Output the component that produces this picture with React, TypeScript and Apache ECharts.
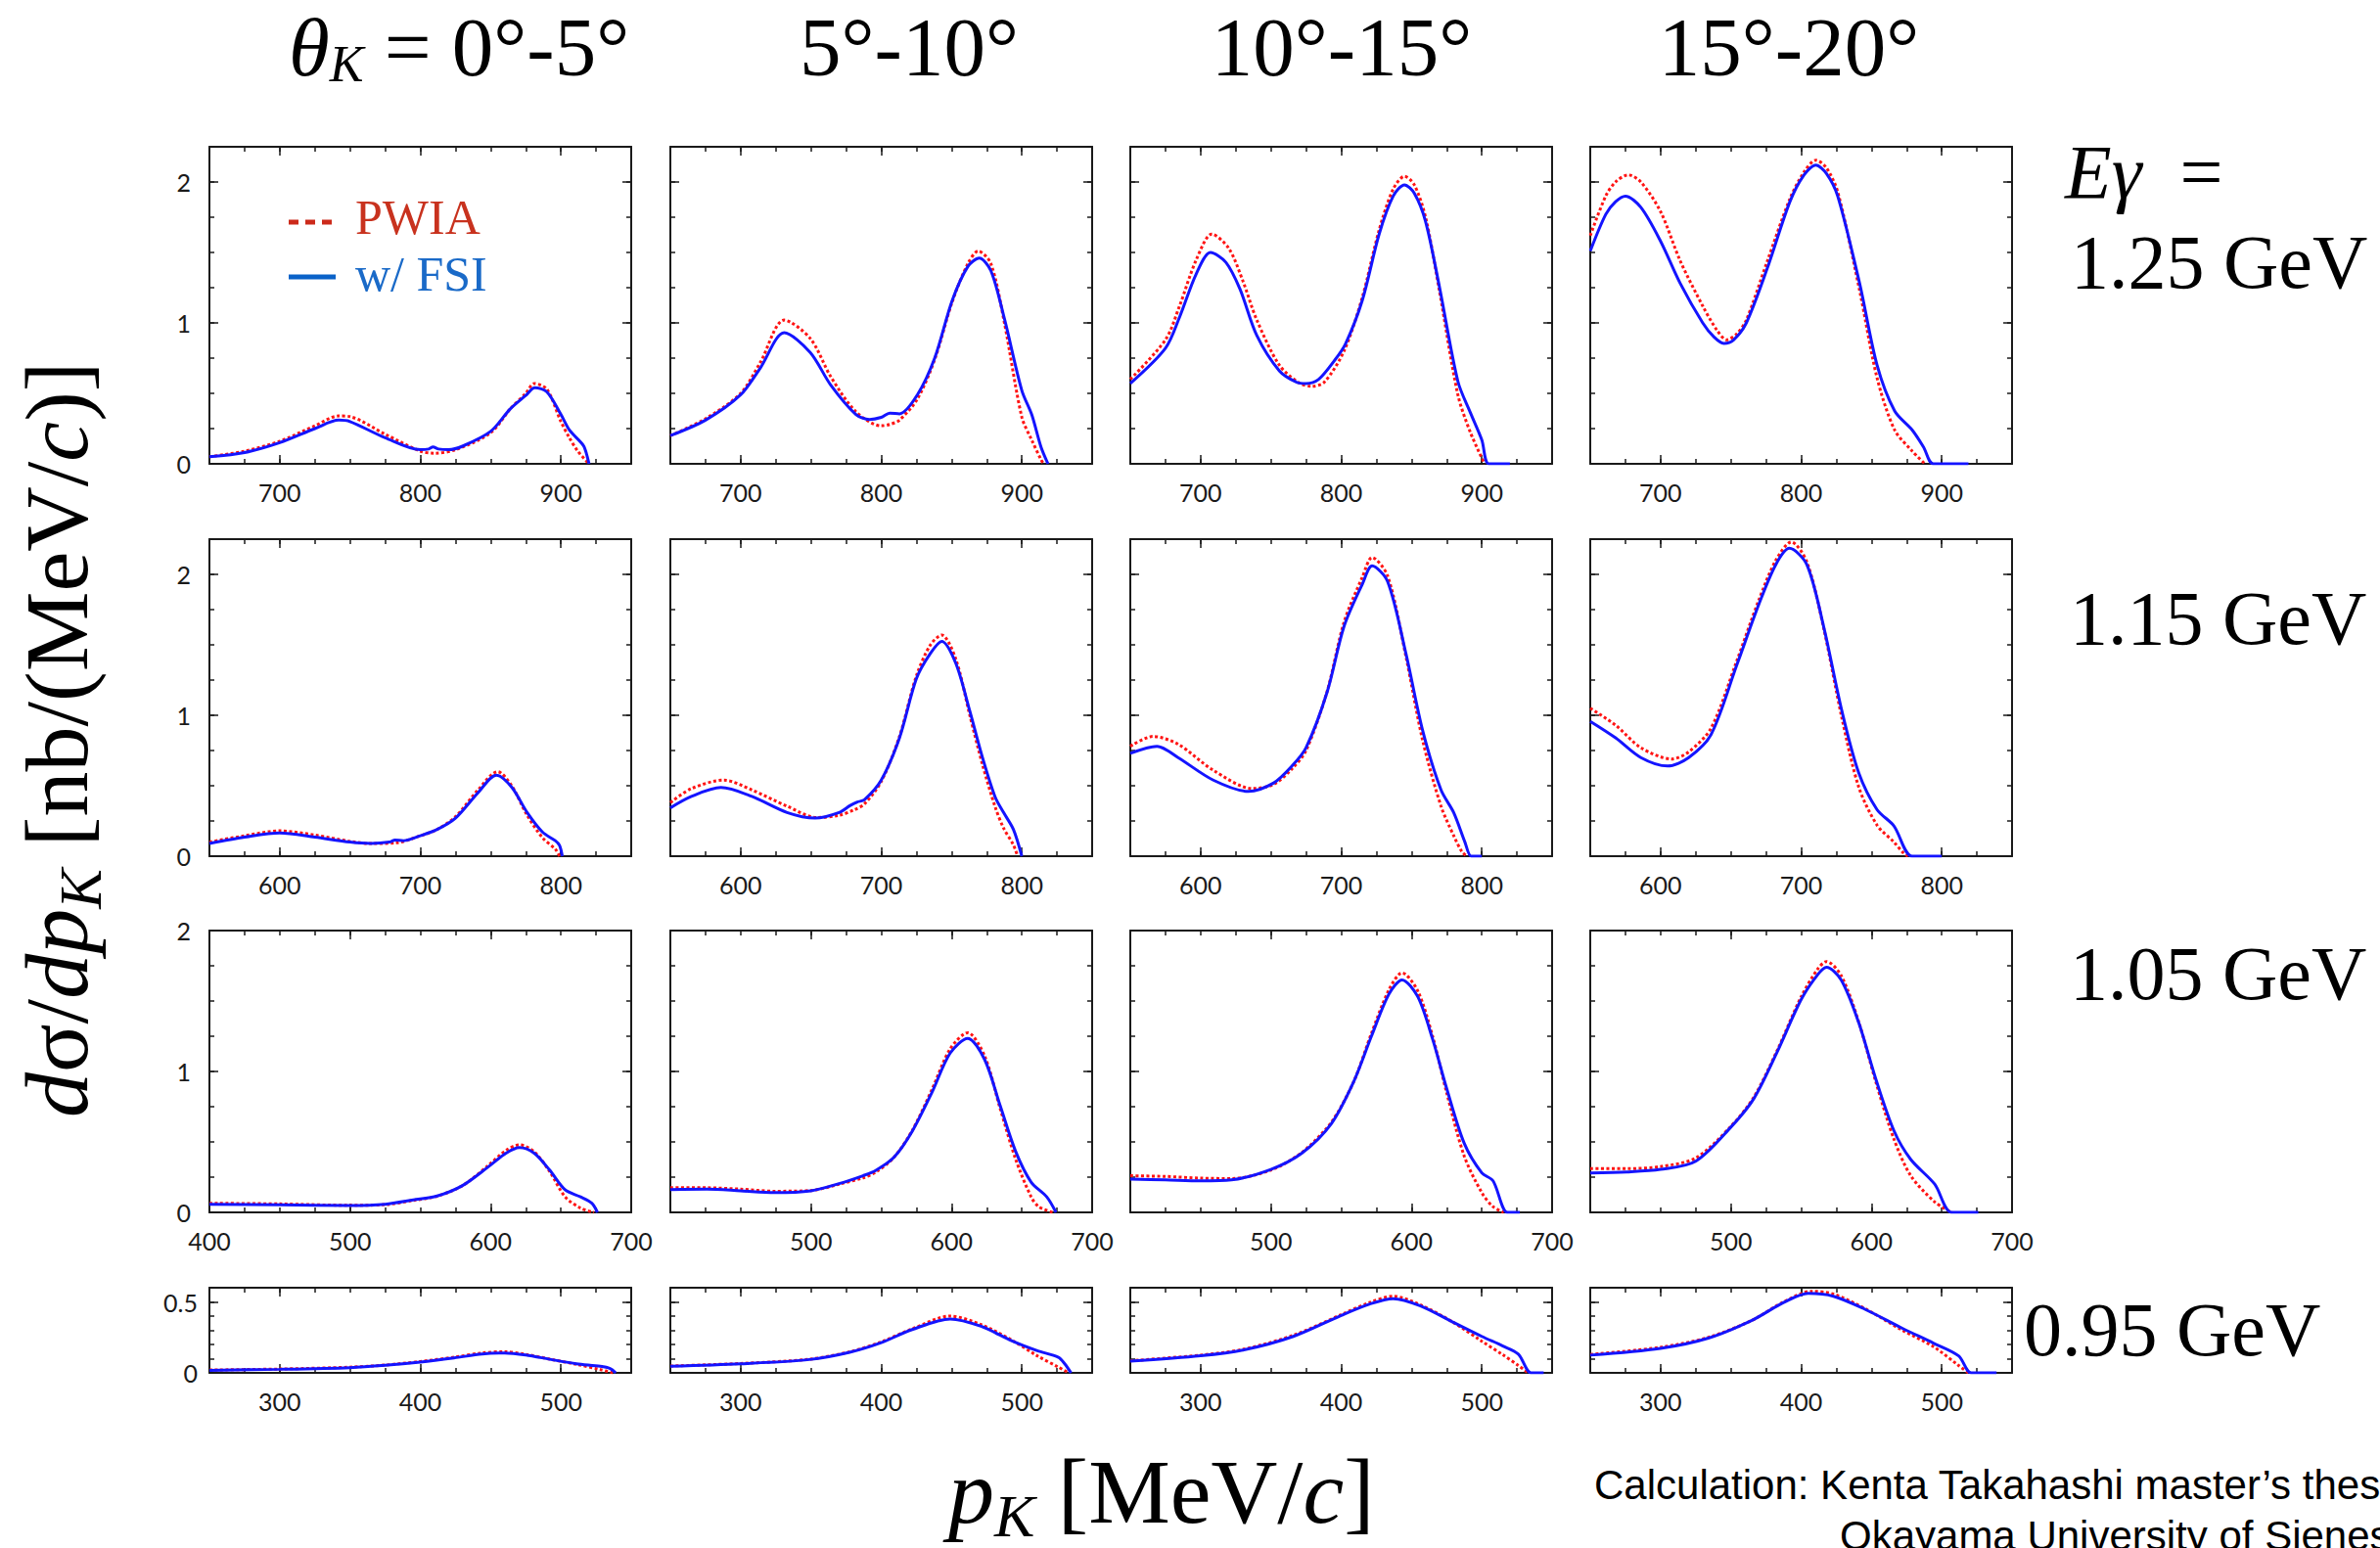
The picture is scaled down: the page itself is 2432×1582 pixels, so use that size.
import React, { useEffect, useRef } from 'react';
import * as echarts from 'echarts';

type Pt = [number, number];

// ---- labels -------------------------------------------------------------
const thetaBins = ['0°-5°', '5°-10°', '10°-15°', '15°-20°'];
const photonEnergies = ['1.25 GeV', '1.15 GeV', '1.05 GeV', '0.95 GeV'];

// ---- axes per photon energy row ---------------------------------------
const pRange: Pt[] = [[650, 950], [550, 850], [400, 700], [250, 550]];
const sigmaMax = [2.25, 2.25, 2, 0.6];
const pMinorStep = 25;
const sigmaMinorStep = [0.25, 0.25, 0.25, 0.1];
const pMajorTicks = [[700, 800, 900], [600, 700, 800], [500, 600], [300, 400, 500]];
const sigmaMajorTicks = [[1, 2], [1, 2], [1], [0.5]];
const pTickLabels = [[700, 800, 900], [600, 700, 800], [500, 600, 700], [300, 400, 500]];
const pTickLabelsFirstCol = [[700, 800, 900], [600, 700, 800], [400, 500, 600, 700], [300, 400, 500]];
const sigmaTickLabels = [[0, 1, 2], [0, 1, 2], [0, 1, 2], [0, 0.5]];

// ---- dσ/dp_K curves: [p_K (MeV/c), nb/(MeV/c)] ---------------------------
// Eγ = 1.25 GeV
const pwia_e125_t0: Pt[] = [[650, 0.05], [675, 0.09], [700, 0.16], [725, 0.27], [742, 0.34], [750, 0.335], [775, 0.21], [800, 0.09], [810, 0.075], [825, 0.10], [850, 0.22], [864, 0.39], [875, 0.50], [881, 0.57], [890, 0.53], [900, 0.30], [906, 0.185], [912, 0.09], [920, 0]];
const fsi_e125_t0: Pt[] = [[650, 0.05], [675, 0.08], [700, 0.15], [725, 0.25], [742, 0.31], [750, 0.30], [775, 0.185], [800, 0.10], [806, 0.105], [809, 0.12], [813, 0.105], [820, 0.10], [830, 0.125], [850, 0.23], [864, 0.39], [875, 0.485], [881.5, 0.54], [890, 0.51], [900, 0.35], [906, 0.24], [916, 0.13], [918.5, 0.06], [920, 0]];
const pwia_e125_t5: Pt[] = [[650, 0.20], [675, 0.32], [700, 0.50], [714, 0.72], [731, 1.02], [749.5, 0.89], [764, 0.62], [782, 0.37], [800, 0.27], [806, 0.28], [813, 0.31], [825.7, 0.46], [838, 0.74], [850.5, 1.15], [861.6, 1.42], [869, 1.51], [878, 1.42], [887.6, 1.0], [900, 0.33], [907, 0.17], [913.6, 0.03], [915.5, 0]];
const fsi_e125_t5: Pt[] = [[650, 0.20], [675, 0.31], [700, 0.49], [714, 0.68], [731, 0.93], [749.5, 0.79], [764, 0.56], [782, 0.35], [791.6, 0.315], [800, 0.33], [806, 0.36], [813, 0.355], [825.7, 0.49], [838, 0.75], [850.5, 1.16], [861.6, 1.40], [869.7, 1.46], [878, 1.37], [887.6, 1.03], [900, 0.52], [907, 0.35], [913.6, 0.12], [918.6, 0]];
const pwia_e125_t10: Pt[] = [[650, 0.60], [675, 0.88], [685, 1.12], [697, 1.45], [708, 1.63], [720, 1.53], [730, 1.30], [740, 1.02], [756, 0.70], [770, 0.575], [779, 0.55], [788, 0.58], [802, 0.80], [815, 1.18], [827, 1.66], [837, 1.95], [845, 2.04], [852, 1.98], [860, 1.75], [870, 1.22], [883, 0.49], [892, 0.22], [902, 0]];
const fsi_e125_t10: Pt[] = [[650, 0.57], [675, 0.82], [685, 1.04], [697, 1.35], [707, 1.50], [718, 1.43], [728, 1.24], [740, 0.91], [756, 0.66], [768, 0.58], [775, 0.57], [784, 0.60], [795, 0.73], [803, 0.85], [815, 1.16], [827, 1.63], [837, 1.90], [845, 1.98], [852, 1.92], [860, 1.72], [870, 1.25], [883, 0.585], [892, 0.36], [900, 0.17], [905, 0], [920, 0]];
const pwia_e125_t15: Pt[] = [[650, 1.62], [661, 1.90], [668, 2.00], [677, 2.05], [686, 2.0], [700, 1.79], [714, 1.44], [730, 1.12], [740, 0.95], [747, 0.88], [754, 0.92], [761, 1.02], [776, 1.44], [792, 1.88], [802, 2.07], [810.5, 2.155], [818, 2.10], [826, 1.93], [841.6, 1.23], [854, 0.61], [866.5, 0.24], [879, 0.09], [888, 0]];
const fsi_e125_t15: Pt[] = [[650, 1.51], [661, 1.77], [668, 1.86], [675, 1.90], [686, 1.82], [700, 1.58], [714, 1.28], [730, 1.0], [738, 0.90], [745, 0.855], [752, 0.88], [761, 1.0], [776, 1.39], [792, 1.86], [802, 2.05], [810.5, 2.12], [818, 2.06], [826, 1.90], [841.6, 1.28], [854, 0.70], [866.5, 0.375], [879, 0.24], [887, 0.12], [894, 0], [919, 0]];

// Eγ = 1.15 GeV
const pwia_e115_t0: Pt[] = [[550, 0.10], [575, 0.145], [600, 0.18], [625, 0.15], [650, 0.105], [665, 0.09], [683, 0.095], [700, 0.145], [712, 0.19], [725, 0.28], [741, 0.47], [755, 0.60], [765, 0.50], [776, 0.29], [787, 0.13], [796, 0.05], [799, 0]];
const fsi_e115_t0: Pt[] = [[550, 0.09], [575, 0.135], [600, 0.165], [625, 0.135], [650, 0.10], [665, 0.09], [678, 0.10], [682, 0.115], [688, 0.11], [700, 0.145], [712, 0.19], [725, 0.27], [741, 0.45], [754, 0.575], [765, 0.49], [776, 0.31], [787, 0.17], [796, 0.11], [799, 0.077], [801, 0]];
const pwia_e115_t5: Pt[] = [[550, 0.38], [565, 0.48], [588, 0.54], [608, 0.47], [633, 0.355], [654, 0.275], [670, 0.29], [681, 0.33], [688, 0.37], [700, 0.53], [713, 0.85], [725, 1.28], [735, 1.50], [743, 1.57], [753, 1.40], [763, 1.0], [772, 0.65], [781, 0.35], [787, 0.20], [794, 0.08], [797, 0]];
const fsi_e115_t5: Pt[] = [[550, 0.343], [565, 0.424], [586, 0.487], [608, 0.424], [633, 0.31], [653, 0.27], [670, 0.31], [678, 0.36], [683, 0.385], [688, 0.40], [700, 0.54], [713, 0.84], [725, 1.26], [735, 1.44], [743, 1.525], [753, 1.37], [763, 1.03], [772, 0.70], [781, 0.42], [787, 0.31], [794, 0.19], [800, 0]];
const pwia_e115_t10: Pt[] = [[550, 0.78], [566, 0.85], [584, 0.795], [609, 0.61], [637, 0.48], [652, 0.51], [665, 0.62], [675, 0.75], [690, 1.17], [702, 1.66], [715, 1.98], [722, 2.12], [733, 1.99], [746, 1.42], [758, 0.82], [771, 0.355], [780, 0.146], [786, 0.03], [789.6, 0]];
const fsi_e115_t10: Pt[] = [[550, 0.73], [569, 0.78], [584, 0.70], [609, 0.54], [634, 0.46], [652, 0.52], [665, 0.64], [675, 0.77], [690, 1.165], [702, 1.63], [715, 1.93], [722, 2.06], [733, 1.95], [746, 1.44], [758, 0.89], [771, 0.47], [780, 0.31], [788, 0.10], [792.5, 0], [800, 0]];
const pwia_e115_t15: Pt[] = [[550, 1.05], [568, 0.93], [586, 0.77], [608, 0.69], [620, 0.74], [636, 0.91], [654, 1.38], [670, 1.82], [682, 2.10], [693, 2.23], [704, 2.09], [716, 1.62], [729, 0.98], [741, 0.49], [754, 0.22], [766, 0.10], [773, 0.02], [776, 0]];
const fsi_e115_t15: Pt[] = [[550, 0.957], [568, 0.84], [586, 0.70], [605, 0.64], [620, 0.70], [636, 0.865], [654, 1.35], [670, 1.79], [682, 2.07], [691.6, 2.185], [704, 2.07], [716, 1.63], [729, 1.03], [741, 0.59], [754, 0.33], [766, 0.215], [779, 0], [800, 0]];

// Eγ = 1.05 GeV
const pwia_e105_t0: Pt[] = [[400, 0.065], [450, 0.06], [500, 0.05], [525, 0.055], [545, 0.085], [562, 0.115], [580, 0.19], [598, 0.33], [611, 0.44], [620.5, 0.48], [631, 0.43], [642, 0.29], [653, 0.11], [664, 0.03], [673.5, 0]];
const fsi_e105_t0: Pt[] = [[400, 0.058], [450, 0.053], [500, 0.049], [525, 0.058], [545, 0.088], [562, 0.116], [580, 0.19], [598, 0.32], [611, 0.42], [620.5, 0.46], [631, 0.42], [642, 0.30], [653, 0.16], [664, 0.11], [672, 0.065], [676, 0]];
const pwia_e105_t5: Pt[] = [[400, 0.176], [426, 0.175], [450, 0.165], [474, 0.15], [500, 0.155], [520, 0.20], [537, 0.245], [546, 0.285], [559, 0.39], [572, 0.58], [586, 0.87], [599, 1.16], [611.5, 1.275], [623.5, 1.11], [634.5, 0.74], [645.5, 0.38], [656.6, 0.11], [662, 0.04], [672, 0]];
const fsi_e105_t5: Pt[] = [[400, 0.162], [426, 0.165], [450, 0.153], [474, 0.14], [500, 0.153], [520, 0.204], [537, 0.26], [546, 0.297], [559, 0.39], [572, 0.575], [586, 0.85], [599, 1.13], [611.5, 1.235], [623.5, 1.085], [634.5, 0.76], [645.5, 0.435], [656.6, 0.215], [667.7, 0.11], [674.3, 0]];
const pwia_e105_t10: Pt[] = [[400, 0.26], [425, 0.255], [450, 0.243], [472, 0.24], [500, 0.30], [522, 0.425], [543, 0.64], [559, 0.93], [571.5, 1.27], [584, 1.58], [593.3, 1.70], [604.5, 1.57], [615, 1.25], [625, 0.85], [637.5, 0.40], [650, 0.14], [658, 0.04], [665.6, 0]];
const fsi_e105_t10: Pt[] = [[400, 0.236], [425, 0.231], [450, 0.224], [472, 0.231], [500, 0.305], [522, 0.42], [543, 0.63], [559, 0.93], [571.5, 1.25], [584, 1.55], [593.3, 1.65], [604.5, 1.53], [615, 1.23], [625, 0.88], [637.5, 0.49], [650, 0.28], [658, 0.224], [668.3, 0], [677, 0]];
const pwia_e105_t15: Pt[] = [[400, 0.31], [426, 0.31], [450, 0.325], [475, 0.386], [500, 0.61], [516.5, 0.82], [533, 1.15], [550, 1.53], [562, 1.73], [568, 1.78], [578.5, 1.68], [591, 1.35], [603, 0.93], [616, 0.52], [628, 0.26], [645, 0.074], [657, 0]];
const fsi_e105_t15: Pt[] = [[400, 0.28], [426, 0.287], [450, 0.305], [475, 0.363], [500, 0.605], [516.5, 0.81], [533, 1.14], [550, 1.51], [562, 1.69], [568, 1.74], [578.5, 1.65], [591, 1.345], [603, 0.95], [616, 0.58], [628, 0.375], [645, 0.20], [657, 0], [676, 0]];

// Eγ = 0.95 GeV
const pwia_e095_t0: Pt[] = [[250, 0.02], [300, 0.027], [350, 0.04], [375, 0.055], [400, 0.08], [424, 0.11], [444, 0.14], [460, 0.149], [475, 0.13], [493, 0.095], [511, 0.06], [528, 0.023], [537, 0]];
const fsi_e095_t0: Pt[] = [[250, 0.018], [300, 0.025], [350, 0.037], [375, 0.053], [400, 0.076], [424, 0.105], [444, 0.133], [460, 0.14], [475, 0.126], [493, 0.094], [511, 0.064], [528, 0.046], [535, 0.03], [539, 0]];
const pwia_e095_t5: Pt[] = [[250, 0.048], [300, 0.066], [349, 0.096], [377.5, 0.148], [400, 0.218], [422, 0.31], [449, 0.40], [471, 0.34], [493, 0.23], [511, 0.12], [526, 0.04], [533.5, 0]];
const fsi_e095_t5: Pt[] = [[250, 0.046], [300, 0.064], [349, 0.094], [377.5, 0.145], [400, 0.213], [422, 0.305], [449, 0.38], [471, 0.328], [493, 0.225], [511, 0.156], [526, 0.11], [530.5, 0.064], [535, 0]];
const pwia_e095_t10: Pt[] = [[250, 0.085], [300, 0.125], [330, 0.165], [366, 0.265], [400, 0.41], [420, 0.495], [437, 0.54], [456, 0.48], [479, 0.36], [500, 0.223], [515, 0.127], [526, 0.052], [533, 0]];
const fsi_e095_t10: Pt[] = [[250, 0.082], [300, 0.12], [330, 0.16], [366, 0.257], [400, 0.405], [420, 0.484], [437, 0.523], [456, 0.473], [479, 0.36], [500, 0.257], [515, 0.189], [526, 0.132], [535, 0], [544, 0]];
const pwia_e095_t15: Pt[] = [[250, 0.13], [300, 0.18], [334, 0.25], [365, 0.37], [387.5, 0.50], [407.5, 0.575], [423, 0.555], [445, 0.455], [472, 0.30], [494, 0.185], [512, 0.052], [519, 0]];
const fsi_e095_t15: Pt[] = [[250, 0.125], [300, 0.173], [334, 0.245], [365, 0.37], [387.5, 0.495], [405, 0.56], [423, 0.54], [445, 0.45], [472, 0.314], [494, 0.21], [512, 0.12], [521, 0], [539, 0]];

const PWIA: Pt[][][] = [
  [pwia_e125_t0, pwia_e125_t5, pwia_e125_t10, pwia_e125_t15],
  [pwia_e115_t0, pwia_e115_t5, pwia_e115_t10, pwia_e115_t15],
  [pwia_e105_t0, pwia_e105_t5, pwia_e105_t10, pwia_e105_t15],
  [pwia_e095_t0, pwia_e095_t5, pwia_e095_t10, pwia_e095_t15],
];
const FSI: Pt[][][] = [
  [fsi_e125_t0, fsi_e125_t5, fsi_e125_t10, fsi_e125_t15],
  [fsi_e115_t0, fsi_e115_t5, fsi_e115_t10, fsi_e115_t15],
  [fsi_e105_t0, fsi_e105_t5, fsi_e105_t10, fsi_e105_t15],
  [fsi_e095_t0, fsi_e095_t5, fsi_e095_t10, fsi_e095_t15],
];

// ---- layout -------------------------------------------------------------
const W = 2432;
const H = 1582;
const COL_LEFT = [214, 685, 1155, 1625];
const COL_W = 431;
const ROW_TOP = [150, 551, 951, 1316];
const ROW_H = [324, 324, 288, 87];

const SERIF = '"Liberation Serif", "Times New Roman", Times, serif';
const TICK_FONT = 'Lato, "Open Sans", sans-serif';
const SANS = '"Liberation Sans", Arial, Helvetica, sans-serif';
const INK = '#1a1a1a';
const RED = '#ff1414';
const BLUE = '#1414ff';

type Seg = { t: string; size: number; italic?: boolean; dy?: number };

function measureRuns(segs: Seg[]) {
  const ctx = document.createElement('canvas').getContext('2d')!;
  let x = 0;
  const items = segs.map((s) => {
    ctx.font = `${s.italic ? 'italic ' : ''}${s.size}px ${SERIF}`;
    const w = ctx.measureText(s.t).width;
    const it = { ...s, x, w };
    x += w;
    return it;
  });
  return { items, width: x };
}

// text pieces laid out along a common baseline; y is the baseline
function textRun(segs: Seg[], x0: number, baseline: number, color: string, anchor: 'left' | 'center' = 'left') {
  const { items, width } = measureRuns(segs);
  const start = anchor === 'center' ? x0 - width / 2 : x0;
  return items.map((it) => ({
    type: 'text',
    x: start + it.x,
    y: baseline + (it.dy || 0) - 0.34 * it.size,
    silent: true,
    style: {
      text: it.t,
      fontSize: it.size,
      fontFamily: SERIF,
      fontStyle: it.italic ? 'italic' : 'normal',
      fill: color,
      align: 'left',
      textAlign: 'left',
      verticalAlign: 'middle',
      textVerticalAlign: 'middle',
    },
  }));
}

function plainText(t: string, x: number, baseline: number, size: number, family: string, color: string) {
  return {
    type: 'text',
    x,
    y: baseline - 0.36 * size,
    silent: true,
    style: {
      text: t,
      fontSize: size,
      fontFamily: family,
      fill: color,
      align: 'left',
      textAlign: 'left',
      verticalAlign: 'middle',
      textVerticalAlign: 'middle',
    },
  };
}

function buildOption() {
  const grid: any[] = [];
  const xAxis: any[] = [];
  const yAxis: any[] = [];
  const series: any[] = [];

  const frameLine = { show: true, onZero: false, lineStyle: { color: INK, width: 2 } };
  const tickLine = { color: INK, width: 1.5 };
  const labelStyle = { fontFamily: TICK_FONT, fontSize: 25, color: INK };

  for (let r = 0; r < 4; r++) {
    for (let c = 0; c < 4; c++) {
      const g = r * 4 + c;
      grid.push({ left: COL_LEFT[c], top: ROW_TOP[r], width: COL_W, height: ROW_H[r], containLabel: false });
      const [xmin, xmax] = pRange[r];
      for (const pos of ['bottom', 'top']) {
        xAxis.push({
          type: 'value', gridIndex: g, position: pos, min: xmin, max: xmax, interval: pMinorStep,
          axisLine: frameLine,
          axisTick: { show: true, inside: true, length: 5, lineStyle: tickLine },
          axisLabel: { show: false }, splitLine: { show: false },
        });
        xAxis.push({
          type: 'value', gridIndex: g, position: pos, min: xmin, max: xmax,
          axisLine: { show: false, onZero: false },
          axisTick: { show: true, inside: true, length: 9, customValues: pMajorTicks[r], lineStyle: tickLine },
          axisLabel: pos === 'bottom'
            ? { show: true, customValues: c === 0 ? pTickLabelsFirstCol[r] : pTickLabels[r], margin: 16, ...labelStyle }
            : { show: false },
          splitLine: { show: false },
        });
      }
      for (const pos of ['left', 'right']) {
        yAxis.push({
          type: 'value', gridIndex: g, position: pos, min: 0, max: sigmaMax[r], interval: sigmaMinorStep[r],
          axisLine: frameLine,
          axisTick: { show: true, inside: true, length: 5, lineStyle: tickLine },
          axisLabel: { show: false }, splitLine: { show: false },
        });
        yAxis.push({
          type: 'value', gridIndex: g, position: pos, min: 0, max: sigmaMax[r],
          axisLine: { show: false, onZero: false },
          axisTick: { show: true, inside: true, length: 9, customValues: sigmaMajorTicks[r], lineStyle: tickLine },
          axisLabel: pos === 'left' && c === 0
            ? { show: true, customValues: sigmaTickLabels[r], margin: r === 3 ? 12 : 19, ...labelStyle }
            : { show: false },
          splitLine: { show: false },
        });
      }
      series.push({
        type: 'line', name: 'PWIA', xAxisIndex: 4 * g, yAxisIndex: 4 * g,
        data: PWIA[r][c], showSymbol: false, symbol: 'none', smooth: 0.3, silent: true, z: 3,
        lineStyle: { color: RED, width: 3, type: [3, 2.5] },
      });
      series.push({
        type: 'line', name: 'w/ FSI', xAxisIndex: 4 * g, yAxisIndex: 4 * g,
        data: FSI[r][c], showSymbol: false, symbol: 'none', smooth: 0.3, silent: true, z: 4,
        lineStyle: { color: BLUE, width: 3, type: 'solid' },
      });
    }
  }

  const graphic: any[] = [];

  // column headings (θ_K bins)
  graphic.push(...textRun([
    { t: 'θ', size: 85, italic: true },
    { t: 'K', size: 52, italic: true, dy: 6 },
    { t: ' = ' + thetaBins[0], size: 85 },
  ], 295, 77, '#000'));
  const headCenters = [0, 929, 1371, 1828];
  for (let c = 1; c < 4; c++) {
    graphic.push(...textRun([{ t: thetaBins[c], size: 85 }], headCenters[c], 77, '#000', 'center'));
  }

  // photon energy labels on the right
  graphic.push(...textRun([
    { t: 'E', size: 78, italic: true },
    { t: 'γ', size: 78, italic: true },
    { t: '  =', size: 78 },
  ], 2110, 202, '#000'));
  const eX = [2116, 2115, 2115, 2068];
  const eBase = [294, 658, 1021, 1385];
  for (let r = 0; r < 4; r++) {
    graphic.push(...textRun([{ t: photonEnergies[r], size: 78 }], eX[r], eBase[r], '#000'));
  }

  // axis titles
  graphic.push(...textRun([
    { t: 'p', size: 94, italic: true },
    { t: 'K', size: 62, italic: true, dy: 14 },
    { t: ' [MeV/', size: 94 },
    { t: 'c', size: 94, italic: true },
    { t: ']', size: 94 },
  ], 969, 1556, '#000'));

  const yTitle = textRun([
    { t: 'd', size: 92, italic: true },
    { t: 'σ', size: 92 },
    { t: '/', size: 92 },
    { t: 'dp', size: 92, italic: true },
    { t: 'K', size: 61, italic: true, dy: 14 },
    { t: ' [nb/(MeV/', size: 92 },
    { t: 'c', size: 92, italic: true },
    { t: ')]', size: 92 },
  ], 0, 0, '#000');
  graphic.push({ type: 'group', x: 89, y: 1142, rotation: Math.PI / 2, children: yTitle });

  // legend inside the first panel
  graphic.push({ type: 'line', silent: true, shape: { x1: 295, y1: 227, x2: 343, y2: 227 }, style: { stroke: '#cc2a1a', lineWidth: 5, lineDash: [10, 7] } });
  graphic.push({ type: 'line', silent: true, shape: { x1: 295, y1: 283, x2: 343, y2: 283 }, style: { stroke: '#0a62c8', lineWidth: 5 } });
  graphic.push(...textRun([{ t: 'PWIA', size: 50 }], 363, 239, '#c8321e'));
  graphic.push(...textRun([{ t: 'w/ FSI', size: 50 }], 363, 297, '#1a6ac8'));

  // credit line
  graphic.push(plainText('Calculation: Kenta Takahashi master’s thesis', 1629, 1533, 42, SANS, '#000'));
  graphic.push(plainText('Okayama University of Sienes', 1880, 1585, 42, SANS, '#000'));

  return {
    animation: false,
    backgroundColor: '#ffffff',
    grid,
    xAxis,
    yAxis,
    series,
    graphic: { elements: graphic },
  };
}

export default function App() {
  const ref = useRef<HTMLDivElement>(null);
  useEffect(() => {
    const chart = echarts.init(ref.current!, null, { renderer: 'svg', width: W, height: H });
    chart.setOption(buildOption() as any);
    return () => chart.dispose();
  }, []);
  return (
    <div
      ref={ref}
      style={{ position: 'absolute', left: 0, top: 0, width: W, height: H, background: '#fff', overflow: 'hidden' }}
    />
  );
}
